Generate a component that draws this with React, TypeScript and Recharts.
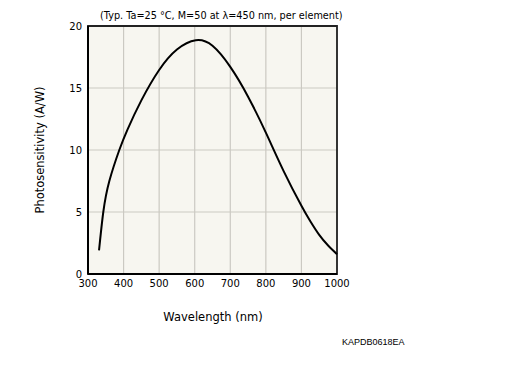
import { CartesianGrid, Line, LineChart, ReferenceArea, XAxis, YAxis } from "recharts";

const wavelength = [331, 343, 360, 388, 411, 450, 500, 550, 603, 650, 700, 750, 800, 850, 900, 925, 950, 975, 1000];
const sensitivity = [1.9, 5.0, 7.5, 10.0, 11.65, 14.0, 16.45, 18.1, 18.85, 18.4, 16.7, 14.3, 11.4, 8.3, 5.5, 4.25, 3.15, 2.3, 1.6];
const xTicks = [300, 400, 500, 600, 700, 800, 900, 1000];
const yTicks = [0, 5, 10, 15, 20];

const data = wavelength.map((w, i) => ({ w, s: sensitivity[i] }));

const font = "'DejaVu Sans', Verdana, sans-serif";
const tickStyle = { fontSize: 10, fill: "#000", fontFamily: font };

export default function App() {
  return (
    <div style={{ position: "absolute", left: 0, top: 0, width: 521, height: 375, background: "#fff", fontFamily: font }}>
      <LineChart width={521} height={375} data={data} margin={{ top: 26, right: 184, bottom: 0, left: 0 }}>
        <CartesianGrid fill="#f7f6f0" stroke="#cbc9c2" strokeWidth={1.2} />
        <XAxis
          dataKey="w"
          type="number"
          domain={[300, 1000]}
          ticks={xTicks}
          tickLine={false}
          tickMargin={0}
          axisLine={{ stroke: "#000", strokeWidth: 2 }}
          tick={tickStyle}
          height={101}
        />
        <YAxis
          type="number"
          domain={[0, 20]}
          ticks={yTicks}
          tickLine={false}
          tickMargin={0}
          axisLine={{ stroke: "#000", strokeWidth: 2 }}
          tick={tickStyle}
          width={88}
        />
        <ReferenceArea x1={300} x2={1000} y1={0} y2={20} fill="none" stroke="#222" strokeWidth={1.8} />
        <Line dataKey="s" type="natural" stroke="#000" strokeWidth={2} dot={false} isAnimationActive={false} />
      </LineChart>
      <div style={{ position: "absolute", left: 100, top: 10, width: 239, textAlign: "right", fontSize: 9.7, whiteSpace: "nowrap" }}>
        (Typ. Ta=25 °C, M=50 at λ=450 nm, per element)
      </div>
      <div style={{ position: "absolute", left: 40, top: 150, transform: "translate(-50%, -50%) rotate(-90deg)", fontSize: 11.5, whiteSpace: "nowrap" }}>
        Photosensitivity (A/W)
      </div>
      <div style={{ position: "absolute", left: 213, top: 317, transform: "translate(-50%, -50%)", fontSize: 11.5, whiteSpace: "nowrap" }}>
        Wavelength (nm)
      </div>
      <div style={{ position: "absolute", left: 342, top: 337, fontSize: 9, fontFamily: "'Liberation Sans', Arial, sans-serif", whiteSpace: "nowrap" }}>
        KAPDB0618EA
      </div>
    </div>
  );
}
